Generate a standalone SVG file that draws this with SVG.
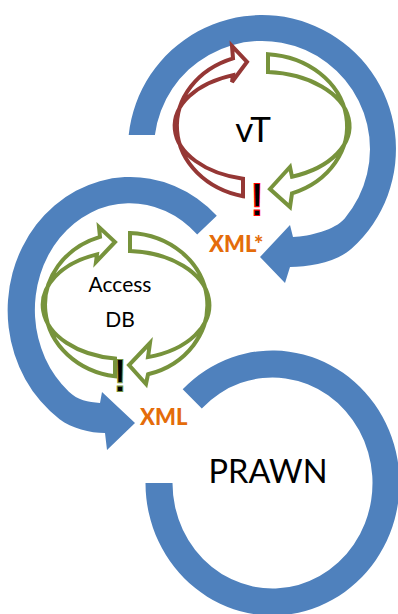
<svg xmlns="http://www.w3.org/2000/svg" width="398" height="614" viewBox="0 0 398 614">
<style>
.cycle{fill:#4F81BD;stroke:none}
.g{fill:none;stroke:#77933C;stroke-width:4;stroke-linejoin:miter}
.r{fill:none;stroke:#953735;stroke-width:4;stroke-linejoin:miter}
.lbl{font-family:Lato,"Liberation Sans",sans-serif;fill:#000}
.xml{font-family:Lato,"Liberation Sans",sans-serif;font-weight:900;fill:#E46C0A;font-size:22px}
.ex{font-family:"Liberation Sans",Arial,sans-serif;font-size:45px;fill:#000;stroke-width:2.2;paint-order:stroke;text-anchor:middle}
</style>
<rect width="398" height="614" fill="#fff"/>
<g id="vT">
<path class="cycle" d="M128.7 135 A134 134 0 1 1 351.7 248.6 C336.8 262 310 267 290 267 L285 283 L260 257 L290 225 L293 237 C310 236 335 229.9 344.7 218.4 A108 108 0 1 0 154.9 135 Z"/>
<path class="r" d="M243 196.2 A85 72 0 0 1 233 58.3 L232 46 L247 62 L232 82 L233 75.1 A87.5 54 0 0 0 243 178.7 Z"/>
<path class="g" d="M268 54.2 A85 72 0 0 1 292 193.4 L290 207 L270 189 L290 167 L292 176.7 A87.5 54 0 0 0 268 72.1 Z"/>
<text class="ex" x="257" y="215" stroke="#FF0000">!</text>
<text class="lbl" x="253" y="142" font-size="35" text-anchor="middle">vT</text>
</g>
<g id="AccessDB">
<path class="cycle" d="M216.8 215.7 A122.7 133.3 0 1 0 59.6 419.2 C71.5 428.3 90 433 105 433 L107 450 L135 423 L102 392 L100 403 C88 402 77.6 400 68.9 391.7 A95 106.7 0 1 1 197.2 234.6 Z"/>
<path class="g" d="M115 376.3 A81 72 0 0 1 100 236.8 L99 227 L115 242 L96 262 L97 254.4 A83.5 54 0 0 0 115 358.5 Z"/>
<path class="g" d="M130 233 A81 72 0 0 1 148 374.3 L146 384 L129 365 L150 343 L148 357.1 A83.5 54 0 0 0 130 251.1 Z"/>
<text class="ex" x="120" y="391" stroke="#77933C">!</text>
<text class="lbl" x="120" y="292" font-size="21" text-anchor="middle">Access</text>
<text class="lbl" x="120" y="327" font-size="21" text-anchor="middle">DB</text>
</g>
<g id="PRAWN">
<path class="cycle" d="M145.5 483 A127 132.5 0 1 0 182.7 389.3 L201.8 408.4 A100 105.5 0 1 1 172.5 483 Z"/>
<text class="lbl" x="268" y="483" font-size="32.5" text-anchor="middle">PRAWN</text>
</g>
<g id="connectors">
<text class="xml" x="209" y="252">XML*</text>
<text class="xml" x="140" y="425">XML</text>
</g>
</svg>
